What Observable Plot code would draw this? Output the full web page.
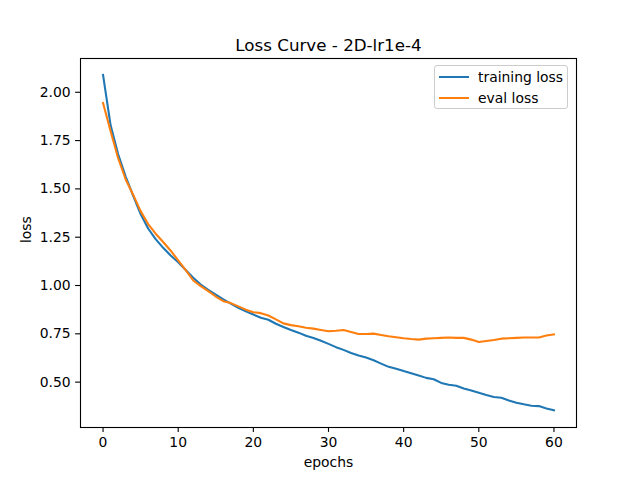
<!DOCTYPE html>
<html>
<head>
<meta charset="utf-8">
<script src="https://cdn.jsdelivr.net/npm/d3@7"></script>
<script src="https://cdn.jsdelivr.net/npm/@observablehq/plot@0.6"></script>
<style>
  html, body { margin: 0; padding: 0; background: #fff; }
  #wrap { position: relative; width: 640px; height: 480px; font-family: "DejaVu Sans", sans-serif; }
  #legend { position: absolute; left: 434px; top: 65px; width: 134px; height: 44px;
    border: 1px solid #cccccc; border-radius: 3px; background: rgba(255,255,255,0.8); box-sizing: border-box; }
  .lrow { position: absolute; left: 0; height: 20px; width: 134px; }
  .lline { position: absolute; left: 4px; top: 9px; width: 30px; height: 2px; }
  .ltext { position: absolute; left: 43px; top: 0; line-height: 20px; font-size: 13.9px; color: #000; white-space: nowrap; }
</style>
</head>
<body>
<div id="wrap"></div>
<script>
const title = "Loss Curve - 2D-lr1e-4";
const xLabel = "epochs";
const yLabel = "loss";
const seriesNames = ["training loss", "eval loss"];
const seriesColors = ["#1f77b4", "#ff7f0e"];
const epochs = d3.range(0, 61);
const trainingLoss = [2.09, 1.83, 1.68, 1.565, 1.465, 1.37, 1.295, 1.24, 1.195, 1.155, 1.12,
  1.08, 1.04, 1.005, 0.978, 0.953, 0.928, 0.906, 0.885, 0.866, 0.85,
  0.833, 0.823, 0.802, 0.785, 0.77, 0.756, 0.74, 0.728, 0.714, 0.698,
  0.681, 0.667, 0.651, 0.638, 0.627, 0.613, 0.596, 0.579, 0.569, 0.557,
  0.546, 0.534, 0.522, 0.515, 0.496, 0.486, 0.481, 0.467, 0.457, 0.445,
  0.433, 0.423, 0.419, 0.405, 0.393, 0.385, 0.378, 0.376, 0.364, 0.354];
const evalLoss = [1.945, 1.80, 1.66, 1.55, 1.47, 1.385, 1.318, 1.268, 1.225, 1.18, 1.13,
  1.08, 1.026, 0.997, 0.971, 0.943, 0.919, 0.909, 0.892, 0.875, 0.862,
  0.857, 0.845, 0.825, 0.804, 0.795, 0.789, 0.781, 0.777, 0.77, 0.763,
  0.766, 0.77, 0.76, 0.749, 0.749, 0.751, 0.744, 0.737, 0.732, 0.727,
  0.723, 0.72, 0.725, 0.727, 0.729, 0.731, 0.729, 0.729, 0.72, 0.708,
  0.713, 0.718, 0.725, 0.727, 0.729, 0.731, 0.731, 0.731, 0.741, 0.747];
const xTicks = [0, 10, 20, 30, 40, 50, 60];
const yTicks = [0.5, 0.75, 1.0, 1.25, 1.5, 1.75, 2.0];

const rows = [];
epochs.forEach((e, i) => {
  rows.push({epoch: e, loss: trainingLoss[i], series: seriesNames[0]});
  rows.push({epoch: e, loss: evalLoss[i], series: seriesNames[1]});
});

const chart = Plot.plot({
  width: 640,
  height: 480,
  marginLeft: 80,
  marginRight: 64,
  marginTop: 58,
  marginBottom: 53,
  style: {fontFamily: "DejaVu Sans, sans-serif", fontSize: "13.9px", color: "#000", background: "#fff"},
  x: {domain: [-3, 63]},
  y: {domain: [0.2652, 2.1748]},
  color: {domain: seriesNames, range: seriesColors},
  marks: [
    Plot.axisX({ticks: xTicks, tickSize: 4.9, tickPadding: 4.5, fontSize: 13.9, label: null, strokeWidth: 1.1}),
    Plot.axisY({ticks: yTicks, tickSize: 4.9, tickPadding: 4.9, fontSize: 13.9, label: null, tickFormat: d3.format(".2f"), strokeWidth: 1.1}),
    Plot.line(rows, {x: "epoch", y: "loss", z: "series", stroke: "series", strokeWidth: 2.08, strokeLinejoin: "round", strokeLinecap: "square"}),
    Plot.frame({stroke: "#000", strokeWidth: 1.1}),
    Plot.text([title], {text: d => d, frameAnchor: "top", dy: -8, lineAnchor: "bottom", fontSize: 16.7, fill: "#000"}),
    Plot.text([xLabel], {text: d => d, frameAnchor: "bottom", dy: 35, lineAnchor: "middle", fontSize: 13.9, fill: "#000"}),
    Plot.text([yLabel], {text: d => d, frameAnchor: "left", dx: -54, rotate: -90, lineAnchor: "middle", fontSize: 13.9, fill: "#000"})
  ]
});

const wrap = document.getElementById("wrap");
wrap.appendChild(chart);

const legend = document.createElement("div");
legend.id = "legend";
seriesNames.forEach((name, i) => {
  const row = document.createElement("div");
  row.className = "lrow";
  row.style.top = (i === 0 ? 1 : 22) + "px";
  const line = document.createElement("span");
  line.className = "lline";
  line.style.background = seriesColors[i];
  const txt = document.createElement("span");
  txt.className = "ltext";
  txt.textContent = name;
  row.appendChild(line);
  row.appendChild(txt);
  legend.appendChild(row);
});
wrap.appendChild(legend);
</script>
</body>
</html>
